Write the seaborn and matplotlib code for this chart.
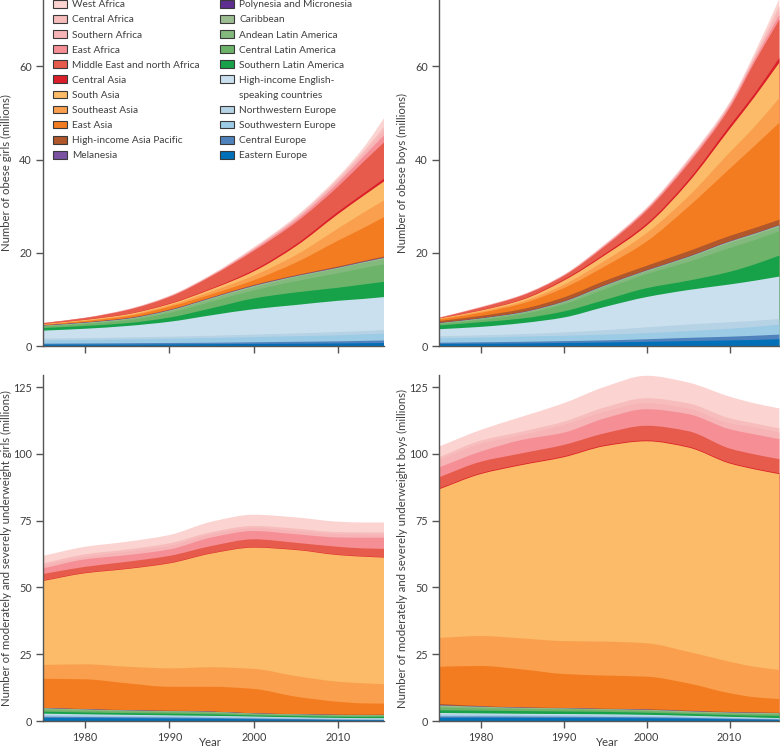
import numpy as np
import matplotlib
matplotlib.use("Agg")
import matplotlib.pyplot as plt
from matplotlib.patches import Patch, PathPatch
from matplotlib.path import Path
import seaborn as sns

YEARS = [1975, 1980, 1985, 1990, 1995, 2000, 2005, 2010, 2013, 2016]

# Stack order, bottom to top
REGIONS = ["Eastern Europe", "Central Europe", "Southwestern Europe", "Northwestern Europe",
           "High-income English-", "Southern Latin America",
           "Central Latin America", "Andean Latin America", "Caribbean",
           "Polynesia and Micronesia", "Melanesia", "High-income Asia Pacific", "East Asia",
           "Southeast Asia", "South Asia", "Central Asia", "Middle East and north Africa",
           "East Africa", "Southern Africa", "Central Africa", "West Africa"]
WRAPPED_REGION = "High-income English-"
WRAPPED_TAIL = "speaking countries"
COLORS = ["#0070B8", "#4F82BC", "#9CCBE5", "#B6D2E5", "#CAE0EE", "#17A24A", "#6DB36A", "#83B97D",
          "#9DBE93", "#5E2E91", "#7B52A1", "#B0572B", "#F47C20", "#F99F4E", "#FBBB68", "#DB1F2A",
          "#E65B4B", "#F58F95", "#F7B4B6", "#F7BDBD", "#FBD3D0"]

# Upper edge of each band (millions), one row per region in stack order
OBESE_GIRLS = [
    [0.3, 0.3, 0.3, 0.35, 0.4, 0.45, 0.5, 0.55, 0.6, 0.65],
    [0.5, 0.55, 0.6, 0.65, 0.7, 0.8, 0.9, 1.0, 1.1, 1.2],
    [1.2, 1.3, 1.4, 1.55, 1.7, 1.9, 2.1, 2.3, 2.5, 2.7],
    [1.6, 1.7, 1.85, 2.0, 2.2, 2.45, 2.7, 3.0, 3.2, 3.5],
    [3.3, 3.7, 4.3, 5.2, 6.6, 7.9, 8.8, 9.7, 10.1, 10.6],
    [3.85, 4.3, 4.9, 6.1, 8.1, 10.2, 11.5, 12.5, 13.2, 13.9],
    [4.15, 4.7, 5.5, 7.1, 9.5, 11.9, 13.9, 15.6, 16.7, 17.7],
    [4.3, 4.9, 5.75, 7.5, 10.1, 12.6, 14.8, 16.6, 17.8, 18.8],
    [4.35, 5.0, 5.85, 7.65, 10.3, 12.9, 15.0, 16.8, 18.0, 19.1],
    [4.37, 5.02, 5.88, 7.68, 10.33, 12.93, 15.03, 16.83, 18.03, 19.13],
    [4.39, 5.04, 5.9, 7.7, 10.35, 12.96, 15.06, 16.87, 18.07, 19.18],
    [4.45, 5.1, 6.0, 7.8, 10.45, 13.1, 15.2, 17.05, 18.25, 19.4],
    [4.55, 5.35, 6.4, 8.4, 11.1, 14.1, 17.9, 22.6, 25.3, 28.2],
    [4.6, 5.45, 6.55, 8.7, 11.7, 15.1, 19.5, 25.2, 28.6, 31.8],
    [4.7, 5.6, 6.8, 9.0, 12.2, 16.0, 21.4, 28.3, 32.2, 36.0],
    [4.72, 5.63, 6.85, 9.1, 12.35, 16.3, 21.8, 28.8, 32.7, 36.6],
    [4.88, 6.0, 7.7, 10.5, 15.0, 20.4, 26.5, 34.2, 39.5, 44.6],
    [4.9, 6.02, 7.75, 10.6, 15.1, 20.7, 27.0, 35.0, 40.6, 46.2],
    [4.91, 6.04, 7.8, 10.65, 15.2, 20.85, 27.3, 35.5, 41.2, 47.3],
    [4.92, 6.05, 7.82, 10.7, 15.25, 20.95, 27.45, 35.8, 41.7, 48.2],
    [4.95, 6.1, 7.9, 10.8, 15.4, 21.2, 27.8, 36.3, 42.5, 50.3],
]
OBESE_BOYS = [
    [0.45, 0.5, 0.55, 0.65, 0.75, 0.9, 1.05, 1.2, 1.3, 1.45],
    [0.7, 0.8, 0.9, 1.05, 1.2, 1.45, 1.75, 2.0, 2.2, 2.45],
    [1.65, 1.8, 2.0, 2.2, 2.45, 2.75, 3.2, 3.7, 4.1, 4.6],
    [2.1, 2.3, 2.55, 2.9, 3.4, 4.0, 4.6, 5.1, 5.4, 5.8],
    [3.6, 4.1, 4.9, 6.1, 8.4, 10.5, 12.0, 13.2, 14.0, 14.9],
    [4.4, 5.1, 5.9, 7.4, 9.9, 12.4, 14.0, 15.9, 17.5, 19.4],
    [4.7, 5.6, 6.8, 8.9, 12.2, 15.4, 18.0, 21.0, 22.7, 24.6],
    [4.85, 5.85, 7.1, 9.35, 12.8, 16.0, 18.9, 22.1, 23.8, 25.6],
    [4.9, 5.9, 7.2, 9.5, 13.0, 16.2, 19.1, 22.4, 24.1, 25.9],
    [4.93, 5.93, 7.23, 9.53, 13.03, 16.23, 19.13, 22.43, 24.13, 25.93],
    [4.95, 5.95, 7.25, 9.55, 13.05, 16.25, 19.15, 22.45, 24.15, 25.95],
    [5.35, 6.45, 7.9, 10.4, 14.0, 17.2, 20.3, 23.6, 25.3, 27.1],
    [5.7, 7.1, 9.1, 12.4, 17.1, 22.4, 29.8, 38.0, 42.9, 47.9],
    [5.8, 7.35, 9.5, 13.1, 18.3, 24.2, 32.0, 41.5, 47.0, 53.2],
    [5.9, 7.6, 9.9, 14.0, 19.5, 25.8, 35.0, 46.5, 53.4, 60.8],
    [5.93, 7.65, 10.0, 14.2, 19.8, 26.2, 35.5, 47.2, 54.1, 61.8],
    [6.0, 8.2, 10.8, 15.0, 21.4, 29.0, 39.0, 51.0, 60.8, 70.0],
    [6.03, 8.25, 10.85, 15.1, 21.6, 29.3, 39.4, 51.5, 61.4, 71.0],
    [6.05, 8.3, 10.9, 15.15, 21.7, 29.4, 39.6, 51.7, 61.8, 72.0],
    [6.07, 8.35, 10.95, 15.2, 21.8, 29.5, 39.8, 51.9, 62.1, 73.0],
    [6.1, 8.4, 11.0, 15.3, 21.9, 29.7, 40.1, 52.3, 62.8, 74.5],
]
UNDERWEIGHT_GIRLS = [
    [1.1, 1.05, 1.0, 0.9, 0.8, 0.65, 0.5, 0.35, 0.3, 0.25],
    [1.6, 1.5, 1.4, 1.3, 1.15, 0.95, 0.75, 0.55, 0.45, 0.4],
    [2.1, 1.95, 1.8, 1.65, 1.5, 1.25, 1.0, 0.8, 0.65, 0.6],
    [2.4, 2.2, 2.05, 1.9, 1.7, 1.45, 1.2, 1.0, 0.9, 0.9],
    [2.75, 2.5, 2.3, 2.1, 1.9, 1.65, 1.35, 1.15, 1.05, 1.0],
    [3.5, 3.2, 2.95, 2.75, 2.5, 2.1, 1.85, 1.6, 1.55, 1.6],
    [4.1, 3.8, 3.5, 3.3, 3.05, 2.5, 2.2, 1.95, 1.9, 2.0],
    [4.6, 4.2, 3.85, 3.6, 3.35, 2.7, 2.4, 2.15, 2.05, 2.1],
    [4.8, 4.35, 3.95, 3.7, 3.45, 2.8, 2.5, 2.25, 2.2, 2.25],
    [4.81, 4.36, 3.96, 3.71, 3.46, 2.81, 2.51, 2.26, 2.21, 2.26],
    [4.83, 4.38, 3.98, 3.73, 3.48, 2.83, 2.53, 2.28, 2.23, 2.28],
    [4.9, 4.5, 4.1, 3.9, 3.6, 2.9, 2.6, 2.4, 2.4, 2.4],
    [15.8, 15.6, 14.1, 12.8, 12.8, 12.0, 9.1, 7.2, 6.6, 6.5],
    [21.0, 21.2, 20.3, 19.7, 20.1, 19.5, 16.8, 14.7, 14.1, 13.7],
    [52.4, 55.3, 56.9, 59.0, 62.7, 64.9, 64.0, 62.1, 61.5, 61.1],
    [52.55, 55.45, 57.05, 59.15, 62.85, 65.05, 64.15, 62.25, 61.65, 61.25],
    [55.0, 57.7, 59.6, 61.8, 65.5, 68.0, 66.7, 65.2, 64.6, 64.4],
    [57.1, 60.5, 62.1, 64.2, 68.7, 71.1, 69.9, 68.7, 68.6, 68.6],
    [58.4, 61.5, 63.4, 65.5, 70.0, 72.2, 71.2, 70.0, 69.9, 69.9],
    [59.0, 62.4, 64.2, 66.5, 70.7, 73.0, 72.0, 70.7, 70.6, 70.6],
    [61.8, 65.2, 67.1, 69.6, 74.6, 77.2, 76.2, 74.6, 74.3, 74.3],
]
UNDERWEIGHT_BOYS = [
    [1.2, 1.2, 1.15, 1.1, 1.05, 1.0, 0.85, 0.65, 0.5, 0.4],
    [1.7, 1.7, 1.65, 1.6, 1.5, 1.4, 1.2, 0.9, 0.75, 0.6],
    [2.25, 2.25, 2.15, 2.05, 1.95, 1.8, 1.5, 1.15, 0.95, 0.8],
    [2.6, 2.5, 2.4, 2.3, 2.2, 2.05, 1.7, 1.35, 1.15, 0.95],
    [3.0, 2.85, 2.7, 2.6, 2.5, 2.3, 1.95, 1.55, 1.3, 1.1],
    [4.0, 3.85, 3.7, 3.55, 3.4, 3.1, 2.65, 2.2, 2.0, 1.9],
    [5.0, 4.7, 4.45, 4.3, 4.05, 3.7, 3.1, 2.7, 2.55, 2.5],
    [5.5, 5.1, 4.75, 4.6, 4.3, 4.0, 3.4, 3.0, 2.85, 2.8],
    [5.85, 5.35, 4.95, 4.75, 4.45, 4.2, 3.65, 3.2, 3.05, 2.95],
    [5.86, 5.36, 4.96, 4.76, 4.46, 4.21, 3.66, 3.21, 3.06, 2.96],
    [5.88, 5.38, 4.98, 4.78, 4.48, 4.23, 3.68, 3.23, 3.08, 2.98],
    [6.4, 5.6, 5.1, 4.9, 4.6, 4.4, 3.9, 3.4, 3.2, 3.1],
    [20.3, 20.6, 19.3, 17.6, 17.0, 16.6, 14.1, 10.4, 8.9, 8.2],
    [31.1, 31.8, 30.9, 29.9, 29.7, 29.1, 25.9, 22.2, 20.3, 19.1],
    [86.7, 92.4, 95.8, 98.7, 102.9, 104.7, 102.4, 96.4, 94.2, 92.4],
    [87.0, 92.7, 96.1, 99.0, 103.2, 105.0, 102.7, 96.7, 94.5, 92.7],
    [91.2, 97.0, 100.2, 103.3, 107.7, 110.5, 108.5, 102.0, 99.8, 98.0],
    [94.9, 100.8, 105.2, 107.9, 113.3, 116.7, 114.9, 109.2, 107.3, 105.5],
    [97.7, 103.7, 107.0, 110.8, 115.8, 119.0, 117.0, 111.4, 109.9, 108.0],
    [98.7, 104.9, 108.3, 112.0, 117.4, 120.8, 118.9, 113.3, 111.4, 109.5],
    [102.7, 108.9, 113.9, 118.9, 125.1, 129.2, 126.7, 121.4, 118.9, 117.0],
]

TOP_YTICKS = [0, 20, 40, 60]
BOTTOM_YTICKS = [0, 25, 50, 75, 100, 125]
XTICKS = [1980, 1990, 2000, 2010]

INK = "#3f3f3f"
sns.set_theme(style="ticks", rc={
    "axes.edgecolor": "#555555", "axes.linewidth": 1.0,
    "xtick.color": "#555555", "ytick.color": "#555555",
    "xtick.labelcolor": INK, "ytick.labelcolor": INK, "axes.labelcolor": INK, "text.color": INK,
    "xtick.major.size": 5, "ytick.major.size": 5, "xtick.major.width": 1, "ytick.major.width": 1,
    "xtick.major.pad": 3, "ytick.major.pad": 3,
    "xtick.labelsize": 7.8, "ytick.labelsize": 7.8, "axes.labelsize": 8.2,
})
plt.rcParams["font.family"] = ["Lato", "DejaVu Sans"]

W, H = 780, 750
fig = plt.figure(figsize=(W / 100, H / 100), dpi=100, facecolor="white")


def edge_slopes(x, y):
    """Monotone slopes at the read values, so the curved edge passes through each of them."""
    h = np.diff(x)
    d = np.diff(y) / h
    m = np.zeros_like(y)
    m[0], m[-1] = d[0], d[-1]
    for i in range(1, len(y) - 1):
        if d[i - 1] * d[i] > 0:
            w1, w2 = 2 * h[i] + h[i - 1], h[i] + 2 * h[i - 1]
            m[i] = (w1 + w2) / (w1 / d[i - 1] + w2 / d[i])
    return m


def band_path(x, y):
    """Area from the axis up to one edge, with one cubic segment between read values."""
    m = edge_slopes(x, y)
    verts = [(x[0], 0.0), (x[0], y[0])]
    codes = [Path.MOVETO, Path.LINETO]
    for i in range(len(x) - 1):
        h = (x[i + 1] - x[i]) / 3
        verts += [(x[i] + h, y[i] + m[i] * h), (x[i + 1] - h, y[i + 1] - m[i + 1] * h), (x[i + 1], y[i + 1])]
        codes += [Path.CURVE4] * 3
    verts += [(x[-1], 0.0), (x[0], 0.0)]
    codes += [Path.LINETO, Path.CLOSEPOLY]
    return Path(verts, codes)


def make_axes(left, top, xmax, ymax, table, yticks, ylabel, show_x, label_x, year_x):
    ax = fig.add_axes([left / W, 1 - (top + 346) / H, 341 / W, 346 / H])
    edges = np.asarray(table, dtype=float)
    x = np.asarray(YEARS, dtype=float)
    # Painted from the top band down, each area reaching the axis, so no seams show
    for row, color in reversed(list(zip(edges, sns.color_palette(COLORS)))):
        ax.add_patch(PathPatch(band_path(x, row), facecolor=color, edgecolor="none", linewidth=0))
    ax.set_xlim(1975, xmax)
    ax.set_ylim(0, ymax)
    ax.set_xticks(XTICKS)
    ax.set_yticks(yticks)
    if show_x:
        ax.set_xlabel("Year")
        ax.xaxis.set_label_coords(year_x, -16.5 / 346)
    else:
        ax.tick_params(axis="x", labelbottom=False)
    ax.set_ylabel(ylabel)
    ax.yaxis.set_label_coords(label_x / 341, 0.5)
    ax.grid(False)
    sns.despine(ax=ax)
    return ax


LEFT_XMAX = 2015.45
RIGHT_XMAX = 2016.08
ax_a = make_axes(43, 0, LEFT_XMAX, 74.25, OBESE_GIRLS, TOP_YTICKS,
                 "Number of obese girls (millions)", False, -31, 0.49)
make_axes(439, 0, RIGHT_XMAX, 74.25, OBESE_BOYS, TOP_YTICKS,
          "Number of obese boys (millions)", False, -31, 0.493)
make_axes(43, 375, LEFT_XMAX, 129.5, UNDERWEIGHT_GIRLS, BOTTOM_YTICKS,
          "Number of moderately and severely underweight girls (millions)", True, -31, 0.49)
make_axes(439, 375, RIGHT_XMAX, 129.5, UNDERWEIGHT_BOYS, BOTTOM_YTICKS,
          "Number of moderately and severely underweight boys (millions)", True, -31, 0.493)

# Legend reads top-down, first column West Africa to Melanesia
handles = []
for i in range(len(REGIONS) - 1, -1, -1):
    handles.append(Patch(facecolor=COLORS[i], edgecolor="#3a3a3a", linewidth=0.8, label=REGIONS[i]))
    if REGIONS[i] == WRAPPED_REGION:
        handles.append(Patch(facecolor="none", edgecolor="none", label=WRAPPED_TAIL))
ax_a.legend(handles=handles, ncol=2, frameon=False, loc="upper left",
            bbox_to_anchor=(10 / 341, 1.0), borderaxespad=0, borderpad=0,
            handlelength=1.4, handleheight=0.8, handletextpad=0.5,
            labelspacing=0.57, columnspacing=2.0, fontsize=7.25)

fig.savefig("out.png", dpi=100, facecolor="white")
